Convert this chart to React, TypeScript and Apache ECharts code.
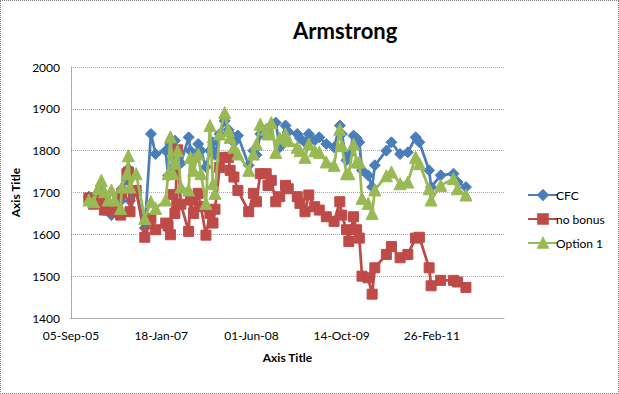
import React, { useEffect, useRef } from "react";
import * as echarts from "echarts";

const dates = [
  "2005-12-13", "2006-01-08", "2006-02-03", "2006-02-20", "2006-03-09", "2006-03-30", "2006-04-17", "2006-05-04",
  "2006-06-07", "2006-06-14", "2006-07-12", "2006-07-20", "2006-07-29", "2006-09-01", "2006-10-19", "2006-11-22",
  "2006-12-18", "2007-02-12", "2007-02-25", "2007-03-10", "2007-03-25", "2007-04-04", "2007-04-19", "2007-05-07",
  "2007-06-19", "2007-06-29", "2007-07-17", "2007-08-11", "2007-08-26", "2007-09-23", "2007-10-15", "2007-11-01",
  "2007-11-12", "2007-12-08", "2008-01-05", "2008-01-26", "2008-02-04", "2008-02-25", "2008-03-18", "2008-05-17",
  "2008-06-12", "2008-06-29", "2008-07-20", "2008-08-22", "2008-09-01", "2008-09-19", "2008-10-14", "2008-11-05",
  "2008-12-07", "2008-12-22", "2009-02-10", "2009-02-25", "2009-03-25", "2009-04-15", "2009-05-18", "2009-06-12",
  "2009-07-21", "2009-09-02", "2009-10-04", "2009-10-15", "2009-11-10", "2009-11-23", "2009-12-19", "2010-01-05",
  "2010-01-20", "2010-02-04", "2010-03-10", "2010-04-01", "2010-04-16", "2010-06-19", "2010-07-17", "2010-09-03",
  "2010-10-16", "2010-11-28", "2010-12-19", "2011-02-11", "2011-02-22", "2011-04-16", "2011-06-26", "2011-07-18",
  "2011-09-03",
];

const cfc = [
  1690, 1680, 1700, 1715, 1670, 1665, 1646, 1670, 1680, 1709, 1730, 1757, 1680, 1705, 1615, 1840,
  1792, 1800, 1740, 1816, 1760, 1824, 1790, 1770, 1832, 1800, 1777, 1816, 1800, 1761, 1800, 1820,
  1790, 1840, 1871, 1850, 1840, 1820, 1836, 1765, 1800, 1790, 1840, 1851, 1840, 1860, 1867, 1808,
  1860, 1845, 1840, 1830, 1820, 1840, 1825, 1832, 1816, 1808, 1860, 1840, 1777, 1790, 1836, 1830,
  1820, 1753, 1741, 1713, 1765, 1800, 1820, 1792, 1796, 1832, 1820, 1753, 1713, 1741, 1745, 1725,
  1713,
];

const noBonus = [
  1687, 1672, 1684, 1690, 1658, 1658, 1660, 1655, 1646, 1698, 1745, 1749, 1654, 1705, 1593, 1638,
  1611, 1627, 1620, 1599, 1695, 1650, 1802, 1672, 1607, 1682, 1650, 1698, 1666, 1598, 1650, 1627,
  1660, 1760, 1784, 1784, 1753, 1737, 1705, 1654, 1698, 1678, 1745, 1745, 1717, 1729, 1678, 1690,
  1717, 1709, 1690, 1674, 1654, 1694, 1666, 1658, 1642, 1631, 1678, 1646, 1611, 1583, 1642, 1611,
  1591, 1500, 1496, 1457, 1520, 1552, 1571, 1544, 1552, 1591, 1593, 1520, 1477, 1490, 1490, 1486,
  1473,
];

const option1 = [
  1682, 1678, 1710, 1729, 1702, 1682, 1706, 1682, 1662, 1713, 1745, 1788, 1713, 1745, 1638, 1678,
  1662, 1682, 1745, 1833, 1745, 1770, 1800, 1713, 1706, 1784, 1753, 1792, 1745, 1674, 1860, 1721,
  1698, 1840, 1891, 1848, 1832, 1808, 1792, 1753, 1792, 1816, 1863, 1851, 1840, 1867, 1796, 1830,
  1840, 1824, 1808, 1800, 1784, 1816, 1800, 1796, 1773, 1765, 1851, 1812, 1745, 1745, 1816, 1773,
  1773, 1686, 1674, 1650, 1706, 1740, 1749, 1721, 1725, 1784, 1769, 1709, 1682, 1717, 1733, 1709,
  1694,
];

const seriesNames = ["CFC", "no bonus", "Option 1"];
const yTicks = { min: 1400, max: 2000, interval: 100 };
const xStart = "2005-09-05";
const xTicks = { min: 0, max: 2400, interval: 500 };

const MONTHS = ["Jan", "Feb", "Mar", "Apr", "May", "Jun", "Jul", "Aug", "Sep", "Oct", "Nov", "Dec"];
const DAY = 86400000;
const base = Date.parse(xStart);
const toDay = (d: string) => Math.round((Date.parse(d) - base) / DAY);
const fmt = (v: number) => {
  const d = new Date(base + v * DAY);
  const dd = String(d.getUTCDate()).padStart(2, "0");
  const yy = String(d.getUTCFullYear() % 100).padStart(2, "0");
  return `${dd}-${MONTHS[d.getUTCMonth()]}-${yy}`;
};

const FONT = "Lato";

export default function App() {
  const ref = useRef<HTMLDivElement>(null);
  useEffect(() => {
    document.body.style.margin = "0";
    const chart = echarts.init(ref.current!, null, { renderer: "svg" });
    const mk = (vals: number[]) => dates.map((d, i) => [toDay(d), vals[i]]);
    const colors = ["#4A7EBB", "#BE4B48", "#98B954"];
    const symbols = ["diamond", "rect", "triangle"];
    const sizes = [11, 10, 12];
    const data = [cfc, noBonus, option1];
    chart.setOption({
      animation: false,
      backgroundColor: "#fff",
      title: {
        text: "Armstrong",
        left: 287,
        top: 13,
        textStyle: { fontFamily: FONT, fontSize: 22, fontWeight: "bold", color: "#000" },
      },
      legend: {
        orient: "vertical",
        left: 521,
        top: 183,
        itemWidth: 30,
        itemHeight: 12,
        itemGap: 12,
        textStyle: { fontFamily: FONT, fontSize: 12, color: "#000", padding: [0, 0, 0, -7] },
        data: seriesNames,
      },
      grid: { left: 63, right: 114, top: 66, bottom: 75, containLabel: false },
      xAxis: {
        type: "value",
        min: xTicks.min,
        max: xTicks.max,
        interval: xTicks.interval,
        name: "Axis Title",
        nameLocation: "middle",
        nameGap: 33,
        nameTextStyle: { fontFamily: FONT, fontSize: 12, fontWeight: "bold", color: "#000" },
        axisLine: { show: true, lineStyle: { color: "#999", type: [1, 1], width: 1 } },
        axisTick: { show: false },
        splitLine: { show: false },
        axisLabel: {
          fontFamily: FONT,
          fontSize: 12,
          color: "#000",
          margin: 11,
          showMaxLabel: false,
          formatter: (v: number) => fmt(v),
        },
      },
      yAxis: {
        type: "value",
        min: yTicks.min,
        max: yTicks.max,
        interval: yTicks.interval,
        name: "Axis Title",
        nameLocation: "middle",
        nameGap: 50,
        nameRotate: 90,
        nameTextStyle: { fontFamily: FONT, fontSize: 12, fontWeight: "bold", color: "#000" },
        axisLine: { show: true, lineStyle: { color: "#999", type: [1, 1], width: 1 } },
        axisTick: { show: false },
        splitLine: { show: true, lineStyle: { color: "#a6a6a6", type: [1, 1], width: 1 } },
        axisLabel: {
          fontFamily: FONT,
          fontSize: 12,
          color: "#000",
          margin: 11,
          formatter: (v: number) => String(v),
        },
      },
      series: seriesNames.map((name, i) => ({
        name,
        type: "line",
        data: mk(data[i]),
        symbol: symbols[i],
        symbolSize: sizes[i],
        showAllSymbol: true,
        lineStyle: { color: colors[i], width: 2.75 },
        itemStyle: { color: colors[i], borderColor: colors[i], borderWidth: 1 },
        z: 2 + i,
      })),
    });
    return () => chart.dispose();
  }, []);
  return (
    <div
      ref={ref}
      style={{ width: 619, height: 394, boxSizing: "border-box", border: "1px dotted #808080" }}
    />
  );
}
